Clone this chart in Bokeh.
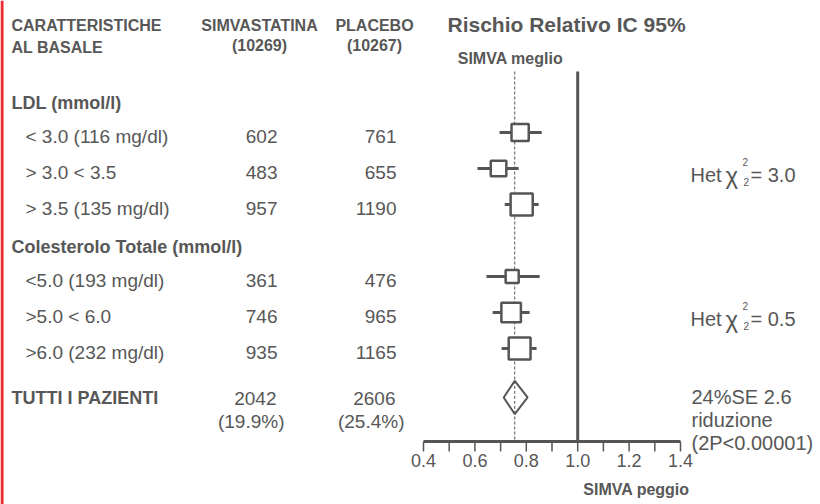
import numpy as np
from bokeh.plotting import figure
from bokeh.models import Range1d, ColumnDataSource, BoxAnnotation
from bokeh.embed import file_html
from bokeh.resources import INLINE
from bokeh.core.properties import value

# ---------------- data ----------------
column_titles = ["SIMVASTATINA", "PLACEBO"]
column_n = ["(10269)", "(10267)"]
group_titles = ["LDL (mmol/l)", "Colesterolo Totale (mmol/l)"]
het_chi2 = ["3.0", "0.5"]
subgroups = ["< 3.0 (116 mg/dl)", "> 3.0 < 3.5", "> 3.5 (135 mg/dl)",
             "<5.0 (193 mg/dl)", ">5.0 < 6.0", ">6.0 (232 mg/dl)"]
subgroup_group = [0, 0, 0, 1, 1, 1]
simva_events = [602, 483, 957, 361, 746, 935]
placebo_events = [761, 655, 1190, 476, 965, 1165]
rr = [0.776, 0.692, 0.782, 0.745, 0.741, 0.774]
rr_lo = [0.696, 0.610, 0.716, 0.645, 0.669, 0.704]
rr_hi = [0.860, 0.770, 0.848, 0.852, 0.813, 0.840]

total_label = "TUTTI I PAZIENTI"
total_simva = 2042
total_placebo = 2606
total_pct = ["(19.9%)", "(25.4%)"]
total_rr = 0.755
total_lo = 0.712
total_hi = 0.805
total_notes = ["24%SE 2.6", "riduzione", "(2P<0.00001)"]

major_ticks = [0.4, 0.6, 0.8, 1.0, 1.2, 1.4]
minor_ticks = [0.5, 0.7, 0.9, 1.1, 1.3]

# ---------------- style ----------------
FONT = "Liberation Sans"
TXT = "#575757"
LN = "#555555"

p = figure(width=820, height=504,
           x_range=Range1d(-1.24591, 1.94475),
           y_range=Range1d(11.3333, -2.6667),
           output_backend="svg", toolbar_location=None,
           x_axis_location=None, y_axis_location=None,
           min_border=0, outline_line_color=None)
p.grid.visible = False
p.extra_x_ranges = {"px": Range1d(0, 820)}
p.extra_y_ranges = {"px": Range1d(504, 0)}

# red slide edge
p.add_layout(BoxAnnotation(left=0, right=3, left_units="screen", right_units="screen",
                           fill_color="#f0282d", fill_alpha=1.0, line_color=None))


def txt(x, y, s, size, bold=False, align="left", yname="px", yoff=0, font=FONT):
    p.text(x=[x], y=[y], text=[s], x_range_name="px", y_range_name=yname,
           text_font=value(font), text_font_size=f"{size}px",
           text_font_style="bold" if bold else "normal",
           text_color=TXT, text_align=align, text_baseline="middle",
           y_offset=yoff)


# rows: group title row then its subgroups
rows = [i + g + 1 for i, g in enumerate(subgroup_group)]
group_rows = [subgroup_group.index(g) + g for g in range(len(group_titles))]
total_row = len(subgroups) + len(group_titles) + 0.36

# ---------------- headers ----------------
txt(11, 25, "CARATTERISTICHE", 16, bold=True)
txt(11, 47, "AL BASALE", 16, bold=True)
for cx, t, n in zip([259, 374], column_titles, column_n):
    txt(cx, 25, t, 16, bold=True, align="center")
    txt(cx, 45, n, 16, bold=True, align="center")
txt(447, 24, "Rischio Relativo IC 95%", 21, bold=True)
txt(510, 58, "SIMVA meglio", 16, bold=True, align="center")

# ---------------- table ----------------
for gr, gt in zip(group_rows, group_titles):
    txt(11, gr, gt, 18, bold=True, yname="default", yoff=6)

src = ColumnDataSource(dict(
    row=rows, label=subgroups,
    simva=[str(v) for v in simva_events],
    placebo=[str(v) for v in placebo_events],
    rr=rr, lo=rr_lo, hi=rr_hi,
    size=[0.52 * np.sqrt(s + q) - 2 for s, q in zip(simva_events, placebo_events)],
))
common = dict(text_font=value(FONT), text_font_size="19px", text_color=TXT,
              text_baseline="middle", y_offset=4, x_range_name="px")
p.text(x=25, y="row", text="label", source=src, text_align="left", **common)
p.text(x=277, y="row", text="simva", source=src, text_align="right", **common)
p.text(x=396, y="row", text="placebo", source=src, text_align="right", **common)

# total row texts
txt(11, total_row, total_label, 18, bold=True, yname="default", yoff=1)
txt(276, total_row, str(total_simva), 19, align="right", yname="default", yoff=1)
txt(395, total_row, str(total_placebo), 19, align="right", yname="default", yoff=1)
txt(284, total_row, total_pct[0], 19, align="right", yname="default", yoff=24)
txt(404, total_row, total_pct[1], 19, align="right", yname="default", yoff=24)
for k, note in enumerate(total_notes):
    txt(691, total_row, note, 20, yname="default", yoff=k * 23)

# heterogeneity
for g, chi in enumerate(het_chi2):
    mid = float(np.mean([r for r, gg in zip(rows, subgroup_group) if gg == g]))
    txt(690, mid, "Het", 20, yname="default", yoff=6)
    txt(725, mid, "\u03c7", 24, yname="default", yoff=7)
    txt(742, mid, "2", 10, yname="default", yoff=-7)
    txt(743, mid, "2", 10, yname="default", yoff=13)
    txt(750, mid, "= " + chi, 20, yname="default", yoff=6)

# ---------------- forest marks ----------------
# reference lines
p.segment(x0=[1.0], x1=[1.0], y0=[71], y1=[441], y_range_name="px",
          line_color=LN, line_width=3)
p.segment(x0=[total_rr], x1=[total_rr], y0=[71], y1=[441], y_range_name="px",
          line_color=LN, line_width=1, line_dash="3 2")

# CI whiskers and boxes
p.segment(x0="lo", x1="hi", y0="row", y1="row", source=src,
          line_color=LN, line_width=3)
p.scatter(x="rr", y="row", size="size", marker="square", source=src,
          fill_color="white", line_color=LN, line_width=2.5)

# overall diamond
h = 0.46
p.patch(x=[total_lo, total_rr, total_hi, total_rr],
        y=[total_row, total_row - h, total_row, total_row + h],
        fill_color="white", line_color=LN, line_width=2)
p.segment(x0=[total_rr], x1=[total_rr], y0=[total_row - h], y1=[total_row + h],
          line_color=LN, line_width=1, line_dash="3 2")

# axis
all_ticks = sorted(major_ticks + minor_ticks)
p.segment(x0=[major_ticks[0]], x1=[major_ticks[-1]], y0=[441], y1=[441],
          y_range_name="px", line_color=LN, line_width=3)
p.segment(x0=all_ticks, x1=all_ticks, y0=[441] * len(all_ticks), y1=[451] * len(all_ticks),
          y_range_name="px", line_color=LN, line_width=1.5)
p.text(x=major_ticks, y=[460] * len(major_ticks), text=[f"{t:.1f}" for t in major_ticks],
       y_range_name="px", text_font=value(FONT), text_font_size="18px",
       text_color=TXT, text_align="center", text_baseline="middle")
txt(636, 489, "SIMVA peggio", 16, bold=True, align="center")

open("out.html", "w").write(file_html(p, INLINE))
